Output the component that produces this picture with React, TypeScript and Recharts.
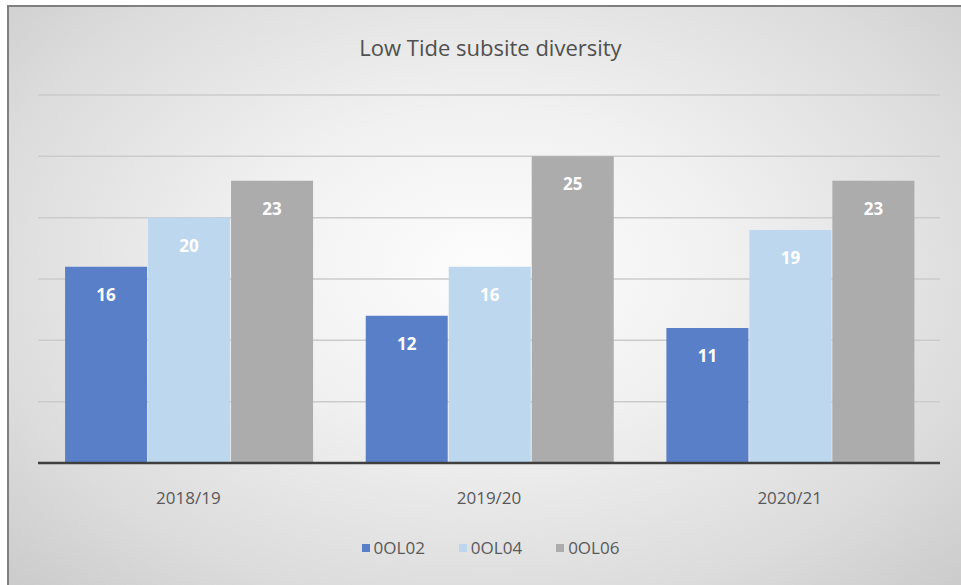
import { BarChart, Bar, XAxis, YAxis, CartesianGrid, LabelList } from 'recharts';

const seasons = ['2018/19', '2019/20', '2020/21'];
const site02 = [16, 12, 11];
const site04 = [20, 16, 19];
const site06 = [23, 25, 23];
const yTicks = [0, 5, 10, 15, 20, 25, 30];

const series = [
    { key: '0OL02', values: site02, color: '#5a7fc9' },
    { key: '0OL04', values: site04, color: '#bdd7ee' },
    { key: '0OL06', values: site06, color: '#acacac' },
];

const data = seasons.map((season, i) => {
    const row: Record<string, string | number> = { season };
    series.forEach((s) => { row[s.key] = s.values[i]; });
    return row;
});

const FONT = '"Open Sans", "Noto Sans", sans-serif';

const labelStyle = { fill: '#ffffff', fontSize: 17, fontWeight: 'bold', fontFamily: FONT };

export default function App() {
    return (
        <div style={{ position: 'absolute', left: 0, top: 0, width: 961, height: 585, background: '#ffffff', overflow: 'hidden' }}>
            <div
                style={{
                    position: 'absolute', left: 7, top: 5, width: 954, height: 580,
                    borderTop: '2px solid #7f7f7f', borderLeft: '2px solid #7f7f7f',
                    background: 'radial-gradient(ellipse at 50% 45%, #fdfdfd 0%, #f1f1f1 35%, #dcdcdc 75%, #cbcbcb 100%)',
                }}
            />
            <div
                style={{
                    position: 'absolute', left: 0, top: 32, width: 981, textAlign: 'center',
                    fontFamily: FONT, fontSize: 22, color: '#505050', lineHeight: '30px',
                }}
            >
                Low Tide subsite diversity
            </div>
            <div style={{ position: 'absolute', left: 0, top: 0 }}>
                <BarChart
                    width={961}
                    height={585}
                    data={data}
                    margin={{ top: 95, right: 21, bottom: 92, left: 38 }}
                    barCategoryGap="9%"
                    barGap={1}
                >
                    <CartesianGrid vertical={false} stroke="#cbcbcb" strokeWidth={1.5} />
                    <YAxis hide domain={[0, 30]} ticks={yTicks} />
                    <XAxis
                        dataKey="season"
                        height={30}
                        axisLine={{ stroke: '#3f3f3f', strokeWidth: 2.5 }}
                        tickLine={false}
                        tickMargin={23}
                        tick={{ fill: '#595959', fontSize: 17, fontFamily: FONT }}
                    />
                    {series.map((s) => (
                        <Bar key={s.key} dataKey={s.key} fill={s.color} isAnimationActive={false}>
                            <LabelList dataKey={s.key} position="insideTop" offset={22} style={labelStyle} />
                        </Bar>
                    ))}
                </BarChart>
            </div>
            {/* legend row under the category axis */}
            <div
                style={{
                    position: 'absolute', left: 0, top: 535, width: 981, display: 'flex', justifyContent: 'center',
                    gap: 34, fontFamily: FONT, fontSize: 17, color: '#595959', lineHeight: '26px',
                }}
            >
                {series.map((s) => (
                    <div key={s.key} style={{ display: 'flex', alignItems: 'center', gap: 4 }}>
                        <span style={{ display: 'inline-block', width: 8, height: 8, background: s.color }} />
                        <span>{s.key}</span>
                    </div>
                ))}
            </div>
        </div>
    );
}
